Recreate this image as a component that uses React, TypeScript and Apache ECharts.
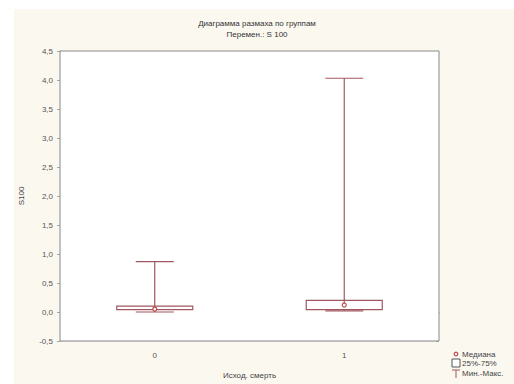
import React, { useEffect, useRef } from "react";
import * as echarts from "echarts";

const categories = ["0", "1"];
// [min, Q1, median, Q3, max]
const group0 = [0.0, 0.04, 0.05, 0.1, 0.87];
const group1 = [0.02, 0.04, 0.12, 0.2, 4.03];
const boxStats = [group0, group1];
const yTicks = { min: -0.5, max: 4.5, interval: 0.5 };
const titleText = "Диаграмма размаха по группам";
const subTitleText = "Перемен.: S 100";
const xName = "Исход. смерть";
const yName = "S100";
const legendItems = ["Медиана", "25%-75%", "Мин.-Макс."];

const RED = "#a05860";
const FONT = "Liberation Sans";

export default function App() {
  const ref = useRef<HTMLDivElement>(null);
  useEffect(() => {
    const chart = echarts.init(ref.current!, null, { renderer: "svg" });
    const data = boxStats.map((s, i) => [i, ...s]);
    const tickLabel = { fontFamily: FONT, fontSize: 8, color: "#555" };
    chart.setOption({
      animation: false,
      backgroundColor: "#ffffff",
      title: [
        {
          text: titleText,
          left: "center",
          top: 14,
          textStyle: { fontFamily: FONT, fontSize: 8, fontWeight: "normal", color: "#333" },
        },
        {
          text: subTitleText,
          left: "center",
          top: 25,
          textStyle: { fontFamily: FONT, fontSize: 8, fontWeight: "normal", color: "#333" },
        },
      ],
      grid: { left: 60, top: 51, right: 75, bottom: 35, show: true, backgroundColor: "#fff", borderColor: "#888", borderWidth: 1, z: 1 },
      xAxis: [
        {
          type: "category",
          data: categories,
          name: xName,
          nameLocation: "middle",
          nameGap: 30,
          nameTextStyle: { fontFamily: FONT, fontSize: 8, color: "#444" },
          axisLine: { lineStyle: { color: "#888" } },
          axisTick: { alignWithLabel: true, length: 3, lineStyle: { color: "#888" } },
          axisLabel: { ...tickLabel, margin: 10 },
          splitLine: { show: false },
        },
        {
          type: "category",
          data: categories,
          position: "top",
          axisLine: { show: false },
          axisTick: { alignWithLabel: true, inside: true, length: 3, lineStyle: { color: "#888" } },
          axisLabel: { show: false },
          splitLine: { show: false },
        },
      ],
      yAxis: [
        {
          type: "value",
          min: yTicks.min,
          max: yTicks.max,
          interval: yTicks.interval,
          name: yName,
          nameLocation: "middle",
          nameGap: 35,
          nameTextStyle: { fontFamily: FONT, fontSize: 8, color: "#444" },
          axisLine: { show: true, lineStyle: { color: "#888" } },
          axisTick: { show: true, length: 3, lineStyle: { color: "#aaa" } },
          axisLabel: {
            ...tickLabel,
            margin: 7,
            formatter: (v: number) => v.toFixed(1).replace(".", ","),
          },
          splitLine: { show: true, lineStyle: { color: "#ececec" } },
        },
        {
          type: "value",
          position: "right",
          min: yTicks.min,
          max: yTicks.max,
          interval: yTicks.interval,
          axisLine: { show: false },
          axisTick: { show: true, inside: true, length: 3, lineStyle: { color: "#aaa" } },
          axisLabel: { show: false },
          splitLine: { show: false },
        },
      ],
      graphic: [
        { type: "rect", z: -10, shape: { x: 14, y: 9, width: 500, height: 375 }, style: { fill: "#fbf8f0" }, silent: true },
        // legend
        { type: "circle", shape: { cx: 456, cy: 354, r: 1.8 }, style: { fill: "#fff", stroke: "#c04848", lineWidth: 1.2 } },
        { type: "rect", shape: { x: 452, y: 359, width: 8, height: 8 }, style: { fill: "#fff", stroke: "#555", lineWidth: 1 } },
        { type: "line", shape: { x1: 452, y1: 370, x2: 460, y2: 370 }, style: { stroke: RED, lineWidth: 1 } },
        { type: "line", shape: { x1: 456, y1: 370, x2: 456, y2: 378 }, style: { stroke: RED, lineWidth: 1 } },
        ...legendItems.map((t, i) => ({
          type: "text",
          x: 462,
          y: 354 + i * 9.5,
          style: { text: t, fontFamily: FONT, fontSize: 8, fill: "#444", textVerticalAlign: "middle" },
        })),
      ],
      series: [
        {
          type: "custom",
          data,
          z: 5,
          renderItem: (params: any, api: any) => {
            const x = api.value(0);
            const mn = api.coord([x, api.value(1)]);
            const q1 = api.coord([x, api.value(2)]);
            const md = api.coord([x, api.value(3)]);
            const q3 = api.coord([x, api.value(4)]);
            const mx = api.coord([x, api.value(5)]);
            const cx = mn[0];
            const bw = 38;
            const cw = 19;
            const ls = { stroke: RED, lineWidth: 1.2 };
            return {
              type: "group",
              children: [
                { type: "line", shape: { x1: cx, y1: mx[1], x2: cx, y2: q3[1] }, style: ls },
                { type: "line", shape: { x1: cx - cw, y1: mx[1], x2: cx + cw, y2: mx[1] }, style: ls },
                { type: "line", shape: { x1: cx, y1: q1[1], x2: cx, y2: mn[1] }, style: ls },
                { type: "line", shape: { x1: cx - cw, y1: mn[1], x2: cx + cw, y2: mn[1] }, style: ls },
                {
                  type: "rect",
                  shape: { x: cx - bw, y: q3[1], width: 2 * bw, height: q1[1] - q3[1] },
                  style: { fill: "#fff", stroke: RED, lineWidth: 1.2 },
                },
                { type: "line", shape: { x1: cx, y1: q3[1], x2: cx, y2: md[1] }, style: ls },
                { type: "circle", shape: { cx, cy: md[1], r: 2 }, style: { fill: "#fff", stroke: "#c04848", lineWidth: 1.2 } },
              ],
            };
          },
        },
      ],
    });
    return () => chart.dispose();
  }, []);
  return <div ref={ref} style={{ position: "fixed", left: 0, top: 0, width: 514, height: 384 }} />;
}
